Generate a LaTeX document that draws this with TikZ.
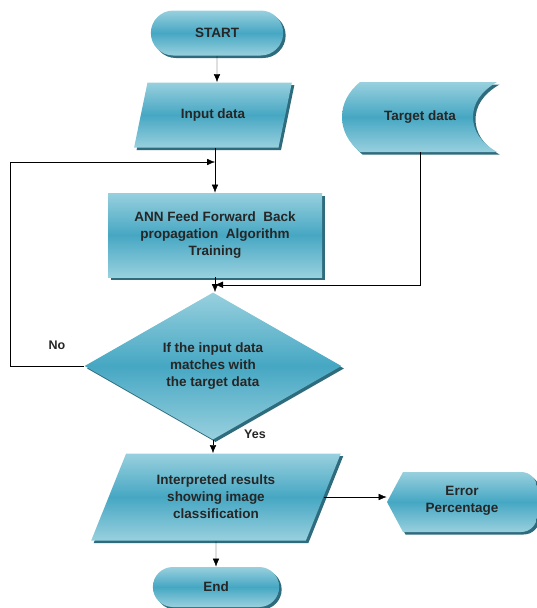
\documentclass[tikz,border=0pt]{standalone}
\usepackage{fontspec}
\setmainfont{Liberation Sans}
\usetikzlibrary{shapes.geometric,shapes.misc,shadows,calc,backgrounds,arrows.meta}
\definecolor{tealtop}{HTML}{98D0DE}
\definecolor{tealmid}{HTML}{46A7C3}
\definecolor{tealshadow}{HTML}{2E6B7C}
\begin{document}
\begin{tikzpicture}[
    x=1pt, y=-1pt,
    fillbox/.style={top color=tealtop, bottom color=tealtop, middle color=tealmid,
      drop shadow={shadow xshift=2.5pt, shadow yshift=-2.5pt, fill=tealshadow, opacity=1}},
    txt/.style={font=\fontsize{13.5}{17}\selectfont\bfseries, align=center, text=black!85},
    terminal/.style={fillbox, txt, rounded rectangle, minimum width=139, minimum height=45},
    iobox/.style={fillbox, txt, trapezium, trapezium stretches=true, inner sep=1pt},
    process/.style={fillbox, txt, rectangle, minimum width=214, minimum height=84},
    decision/.style={fillbox, txt, diamond, minimum width=257, minimum height=115, inner sep=0pt},
    label/.style={font=\fontsize{12.5}{14}\selectfont\bfseries, text=black!85},
    >={Latex[length=8pt,width=6.5pt]}, line width=0.8pt
  ]
  \useasboundingbox (0,0) rectangle (537,608);
  \node[terminal] (start) at (217,33) {START};
  \node[iobox, trapezium left angle=65, trapezium right angle=115,
        minimum width=159, minimum height=65] (inp) at (213,115) {Input data};
  \node[txt, minimum width=155, minimum height=70] (tgt) at (420,117) {Target data};
  \node[process] (ann) at (215,235) {ANN Feed Forward\ \ Back\\propagation\ \ Algorithm\\Training};
  \node[decision] (dec) at (213,366) {If the input data\\matches with\\the target data};
  \node[iobox, trapezium left angle=63, trapezium right angle=117,
        minimum width=250, minimum height=87] (res) at (216,497) {Interpreted results\\showing image\\classification};
  \node[txt, minimum width=150, minimum height=60] (err) at (462,501) {Error\\Percentage};
  \node[terminal, minimum width=133, minimum height=40] (end) at (216,587) {End};
  \node[label] (no) at (57,345) {No};
  \node[label] (yes) at (255,434) {Yes};
  % shapes without a ready node shape
  \begin{pgfonlayer}{background}
    \path[fillbox] (360,82) .. controls (348,92) and (342,104) .. (342,117)
      .. controls (342,130) and (348,142) .. (360,152) -- (497,152)
      .. controls (480,142) and (473,130) .. (473,117)
      .. controls (473,104) and (480,92) .. (497,82) -- cycle;
    \path[fillbox] (387,502) -- (403,472) -- (521,472)
      .. controls (530,472) and (537,479) .. (537,488) -- (537,516)
      .. controls (537,525) and (530,532) .. (521,532) -- (403,532) -- cycle;
  \end{pgfonlayer}
  \coordinate (loop) at (10,162);
  \draw[->] (start) -- (start |- inp.north);
  \draw[->] (inp.south -| ann) -- (ann);
  \draw[->] (ann) -- (ann |- dec.north);
  \draw[->] (tgt.south) |- ($(ann.south)!.5!(ann |- dec.north)$);
  \draw[->] (dec.west) -| (loop) -- (loop -| ann);
  \draw[->] (dec.south) -- (dec.south |- res.north);
  \draw[->] (res.east) -- (res.east -| err.west);
  \draw[->] (res.south -| end) -- (end);
\end{tikzpicture}
\end{document}
